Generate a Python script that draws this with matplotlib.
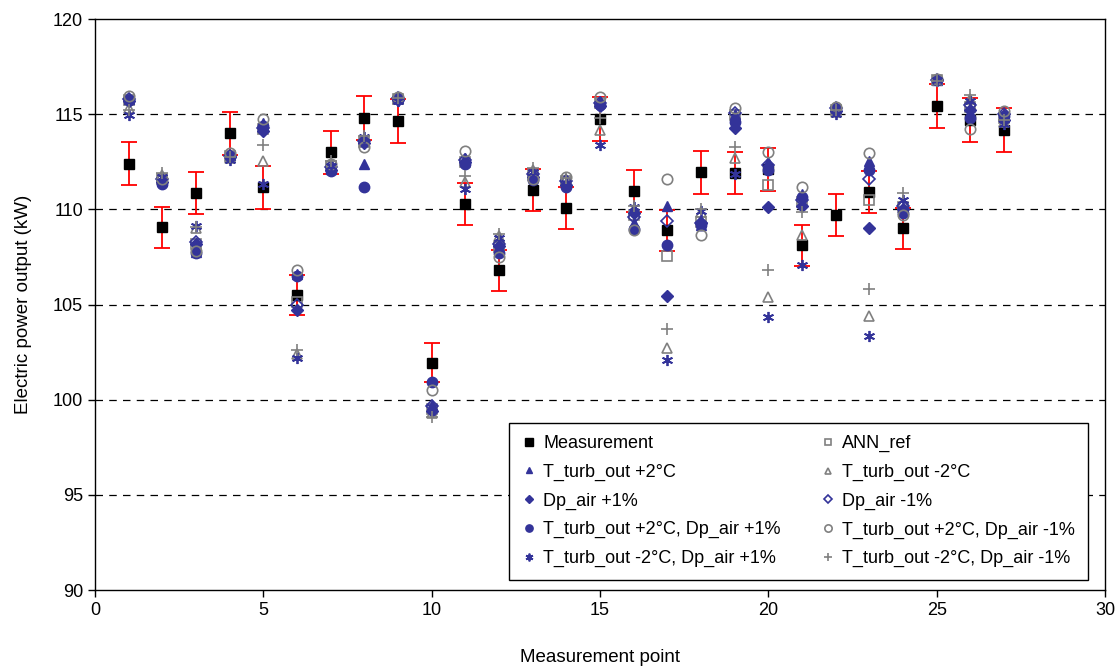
import matplotlib
matplotlib.use("Agg")
import matplotlib.pyplot as plt
import numpy as np

plt.rcParams['font.family'] = ['Liberation Sans', 'DejaVu Sans']

points = list(range(1, 28))

measurement = [112.4, 109.05, 110.85, 114.0, 111.15, 105.5, 113.0, 114.8, 114.65, 101.95,
               110.3, 106.8, 111.0, 110.05, 114.75, 110.95, 108.9, 111.95, 111.9, 112.1,
               108.12, 109.7, 110.9, 109.0, 115.45, 114.7, 114.17]
ann_ref = [115.75, 111.6, 108.2, 112.8, 114.2, 105.15, 112.3, 113.55, 115.8, 99.5,
           112.5, 108.0, 111.8, 111.5, 115.6, 109.7, 107.55, 109.35, 114.95, 111.28,
           110.4, 115.2, 110.49, 110.1, 116.8, 115.4, 114.8]
t_plus2 = [115.8, 111.5, 107.75, 112.85, 114.55, 106.6, 112.1, 112.36, 115.85, 99.7,
           112.7, 107.9, 111.7, 111.4, 115.7, 109.3, 110.17, 109.2, 115.0, 112.5,
           110.8, 115.3, 112.54, 109.9, 116.8, 115.0, 115.0]
t_minus2 = [115.3, 111.8, 109.0, 112.7, 112.54, 102.4, 112.45, 113.7, 115.8, 99.3,
            111.45, 108.6, 112.05, 111.6, 114.17, 110.0, 102.7, 109.85, 112.68, 105.4,
            108.65, 115.1, 104.4, 110.4, 116.8, 115.8, 114.6]
dp_plus1 = [115.7, 111.45, 108.2, 112.75, 114.1, 104.7, 112.05, 113.5, 115.75, 99.4,
            112.5, 108.05, 111.7, 111.3, 115.45, 109.8, 105.46, 109.3, 114.27, 110.14,
            110.2, 115.15, 109.03, 110.0, 116.8, 115.2, 114.7]
dp_minus1 = [115.8, 111.6, 108.3, 112.8, 114.3, 105.0, 112.25, 113.6, 115.85, 99.65,
             112.6, 108.2, 111.85, 111.5, 115.6, 109.6, 109.4, 109.3, 115.05, 112.35,
             110.5, 115.3, 111.58, 110.2, 116.8, 115.5, 115.0]
t_plus2_dp_plus1 = [115.75, 111.35, 107.7, 112.8, 114.4, 106.5, 112.0, 111.15, 115.8, 100.95,
                    112.4, 107.7, 111.55, 111.15, 115.5, 108.95, 108.12, 109.2, 114.6, 112.06,
                    110.66, 115.25, 112.07, 109.8, 116.8, 114.8, 114.9]
t_plus2_dp_minus1 = [115.95, 111.6, 107.8, 112.95, 114.75, 106.8, 112.4, 113.3, 115.9, 100.5,
                     113.05, 107.5, 111.6, 111.72, 115.88, 108.9, 111.6, 108.65, 115.3, 113.03,
                     111.19, 115.4, 112.94, 109.7, 116.85, 114.2, 115.16]
t_minus2_dp_plus1 = [114.95, 111.7, 109.1, 112.6, 111.33, 102.2, 112.3, 113.8, 115.7, 99.6,
                     111.05, 108.5, 111.95, 111.4, 113.38, 110.1, 102.1, 109.9, 111.85, 104.36,
                     107.07, 115.0, 103.36, 110.49, 116.8, 115.7, 114.5]
t_minus2_dp_minus1 = [115.2, 111.9, 109.05, 112.75, 113.38, 102.6, 112.55, 113.85, 115.85, 99.1,
                      111.77, 108.7, 112.15, 111.65, 114.8, 110.2, 103.7, 110.0, 113.29, 106.8,
                      109.87, 115.2, 105.8, 110.87, 116.75, 116.0, 114.7]

labels = ["Measurement", "ANN_ref", "T_turb_out +2°C", "T_turb_out -2°C",
          "Dp_air +1%", "Dp_air -1%", "T_turb_out +2°C, Dp_air +1%",
          "T_turb_out +2°C, Dp_air -1%", "T_turb_out -2°C, Dp_air +1%",
          "T_turb_out -2°C, Dp_air -1%"]

blue = '#333399'
gray = '#808080'

fig = plt.figure(figsize=(11.2, 6.7), dpi=100)
ax = fig.add_axes([0.0848, 0.1194, 0.9018, 0.8522])

x = np.array(points)
meas = np.array(measurement)
err = meas * 0.01

ax.errorbar(x, meas, yerr=err, fmt='none', ecolor='#ff0000', elinewidth=1.3,
            capsize=6, capthick=1.3, zorder=2)

h = {}
h[0], = ax.plot(x, meas, 's', color='black', ms=7.5, zorder=3)
specs = [
    (ann_ref, dict(marker='s', mfc='none', mec=gray, ms=7, mew=1.2)),
    (t_plus2, dict(marker='^', mfc=blue, mec=blue, ms=7)),
    (t_minus2, dict(marker='^', mfc='none', mec=gray, ms=7, mew=1.2)),
    (dp_plus1, dict(marker='D', mfc=blue, mec=blue, ms=6)),
    (dp_minus1, dict(marker='D', mfc='none', mec=blue, ms=6, mew=1.2)),
    (t_plus2_dp_plus1, dict(marker='o', mfc=blue, mec=blue, ms=7.5)),
    (t_plus2_dp_minus1, dict(marker='o', mfc='none', mec=gray, ms=7.5, mew=1.2)),
    (t_minus2_dp_plus1, dict(marker=(6, 2, 0), mfc=blue, mec=blue, ms=8, mew=1.3)),
    (t_minus2_dp_minus1, dict(marker='+', mfc=gray, mec=gray, ms=8, mew=1.2)),
]
handles = [h[0]]
for i, (vals, st) in enumerate(specs):
    ln, = ax.plot(x, vals, linestyle='none', zorder=4 + i, **st)
    handles.append(ln)

ax.set_xlim(0, 30)
ax.set_ylim(90, 120)
ax.set_xticks(range(0, 31, 5))
ax.set_yticks(range(90, 121, 5))
for yv in range(95, 120, 5):
    ax.axhline(yv, color='black', linestyle=(0, (6, 5)), linewidth=0.9, zorder=1)

ax.tick_params(axis='both', labelsize=13, direction='out', length=5, width=1)
for s in ax.spines.values():
    s.set_linewidth(1.0)

ax.set_xlabel('Measurement point', fontsize=13.5, labelpad=22)
ax.set_ylabel('Electric power output (kW)', fontsize=13.5, labelpad=15)

order = [0, 2, 4, 6, 8, 1, 3, 5, 7, 9]
leg = ax.legend([handles[i] for i in order], [labels[i] for i in order],
                ncol=2, loc='lower right', bbox_to_anchor=(0.983, 0.0175),
                borderaxespad=0,
                fontsize=13, markerscale=0.7, handlelength=0.8, handletextpad=0.4,
                columnspacing=2.2, labelspacing=0.64, borderpad=0.7,
                fancybox=False, framealpha=1, edgecolor='black')
leg.get_frame().set_linewidth(1.0)
leg.set_zorder(20)

fig.savefig('out.png', dpi=100)
